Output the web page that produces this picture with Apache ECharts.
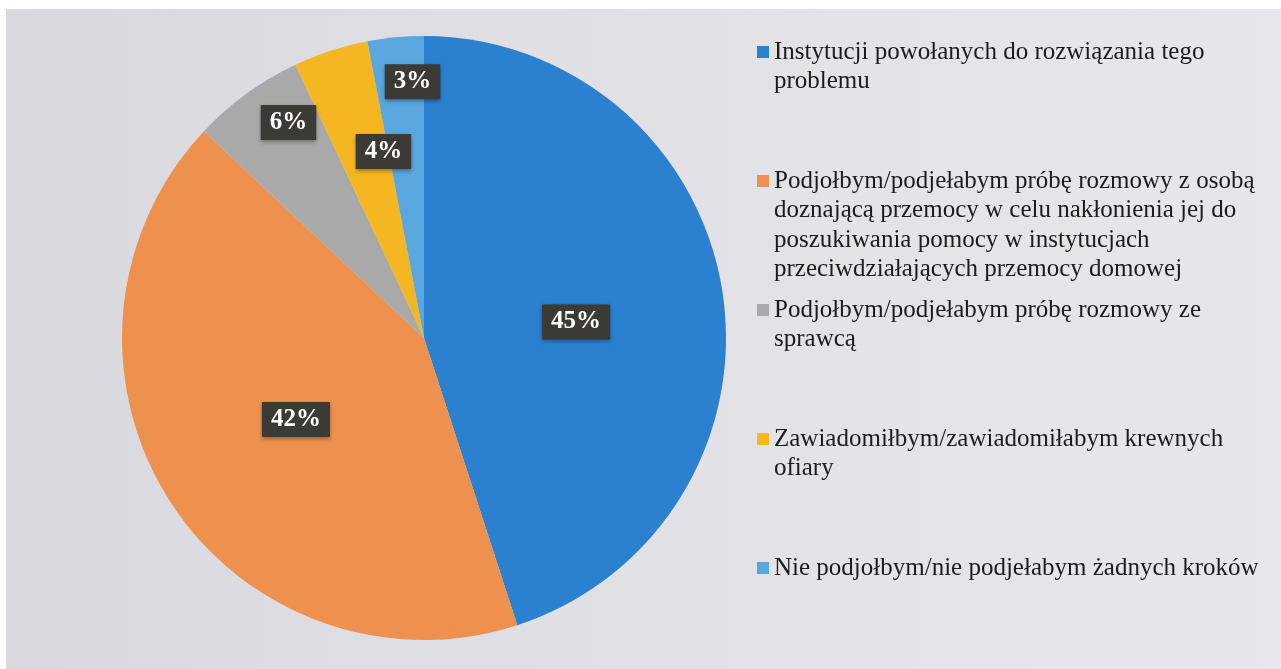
<!DOCTYPE html>
<html>
<head>
<meta charset="utf-8">
<script src="https://cdn.jsdelivr.net/npm/echarts@6/dist/echarts.min.js"></script>
<style>
    html, body { margin: 0; padding: 0; background: #fff; }
    #chart { width: 1281px; height: 669px; }
</style>
</head>
<body>
<div id="chart"></div>
<script>
// dane wykresu
var categories = [
    'Instytucji powołanych do rozwiązania tego\nproblemu',
    'Podjołbym/podjełabym próbę rozmowy z osobą\ndoznającą przemocy w celu nakłonienia jej do\nposzukiwania pomocy w instytucjach\nprzeciwdziałających przemocy domowej',
    'Podjołbym/podjełabym próbę rozmowy ze\nsprawcą',
    'Zawiadomiłbym/zawiadomiłabym krewnych\nofiary',
    'Nie podjołbym/nie podjełabym żadnych kroków'
];
var values = [45, 42, 6, 4, 3];

// wygląd
var colors = ['#2b80cf', '#ee914f', '#a9a9a9', '#f4b722', '#5aa7e0'];
var labelOffsets = [[0, 8], [2, -1], [-45, -91], [7, -40], [3, -103]];
var legendCenters = [52, 181, 310, 439, 568];
var lineH = 29.5;

window.onload = function () {
    var chart = echarts.init(document.getElementById('chart'));

    var pieData = [];
    for (var i = 0; i < categories.length; i++) {
        pieData.push({
            name: categories[i],
            value: values[i],
            label: { offset: labelOffsets[i] }
        });
    }

    // osobna legenda dla każdej pozycji (równe odstępy jak w oryginale)
    // puste linie na początku, żeby pierwszy wiersz stał przy ikonie
    var legends = [];
    for (var j = 0; j < categories.length; j++) {
        var n = categories[j].split('\n').length;
        legends.push({
            orient: 'vertical',
            left: 757,
            top: legendCenters[j] - (n - 0.5) * lineH,
            padding: 0,
            itemWidth: 12,
            itemHeight: 12,
            itemGap: 0,
            icon: 'rect',
            data: [categories[j]],
            formatter: function (name) {
                var k = name.split('\n').length;
                return new Array(k).join('\n') + name;
            },
            textStyle: {
                fontFamily: 'Liberation Serif',
                fontSize: 25,
                color: '#1c1c1c',
                lineHeight: lineH
            }
        });
    }

    var option = {
        animation: false,
        backgroundColor: '#ffffff',
        color: colors,
        graphic: [{
            type: 'rect',
            left: 6,
            top: 9,
            shape: { width: 1275, height: 660 },
            style: {
                fill: new echarts.graphic.LinearGradient(0, 0, 1, 0, [
                    { offset: 0, color: '#d9d8de' },
                    { offset: 0.6, color: '#e2e2e7' },
                    { offset: 1, color: '#e7e7eb' }
                ])
            },
            z: -10
        }],
        legend: legends,
        series: [{
            type: 'pie',
            center: [424, 338],
            radius: 302,
            startAngle: 90,
            clockwise: true,
            avoidLabelOverlap: false,
            data: pieData,
            label: {
                show: true,
                position: 'inside',
                formatter: '{c}%',
                fontFamily: 'Liberation Serif',
                fontWeight: 'bold',
                fontSize: 25,
                color: '#ffffff',
                backgroundColor: '#3c3a35',
                padding: [6, 9, 4, 9],
                shadowColor: 'rgba(0,0,0,0.35)',
                shadowBlur: 4,
                shadowOffsetY: 2
            },
            labelLine: { show: false },
            itemStyle: { borderWidth: 0 },
            emphasis: { scale: false }
        }]
    };

    chart.setOption(option);
};
</script>
</body>
</html>
